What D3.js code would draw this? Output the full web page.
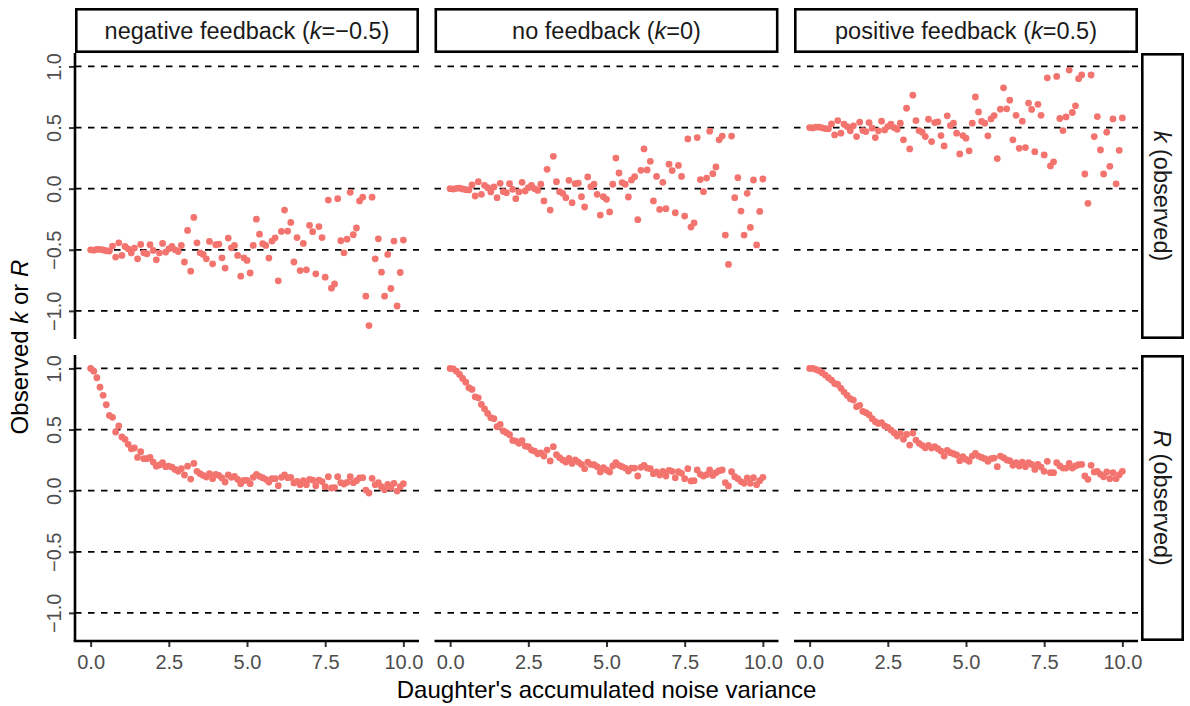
<!DOCTYPE html>
<html>
<head>
<meta charset="utf-8">
<script src="https://cdn.jsdelivr.net/npm/d3@7"></script>
<style>
body { margin: 0; background: #fff; }
svg text { font-family: "Liberation Sans", Arial, sans-serif; }
</style>
</head>
<body>
<svg id="chart" width="1190" height="706"></svg>
<script>
// x: daughter's accumulated noise variance
const noiseVariance = [0, 0.1, 0.2, 0.3, 0.4, 0.5, 0.6, 0.7, 0.8, 0.9,
  1, 1.1, 1.2, 1.3, 1.4, 1.5, 1.6, 1.7, 1.8, 1.9,
  2, 2.1, 2.2, 2.3, 2.4, 2.5, 2.6, 2.7, 2.8, 2.9,
  3, 3.1, 3.2, 3.3, 3.4, 3.5, 3.6, 3.7, 3.8, 3.9,
  4, 4.1, 4.2, 4.3, 4.4, 4.5, 4.6, 4.7, 4.8, 4.9,
  5, 5.1, 5.2, 5.3, 5.4, 5.5, 5.6, 5.7, 5.8, 5.9,
  6, 6.1, 6.2, 6.3, 6.4, 6.5, 6.6, 6.7, 6.8, 6.9,
  7, 7.1, 7.2, 7.3, 7.4, 7.5, 7.6, 7.7, 7.8, 7.9,
  8, 8.1, 8.2, 8.3, 8.4, 8.5, 8.6, 8.7, 8.8, 8.9,
  9, 9.1, 9.2, 9.3, 9.4, 9.5, 9.6, 9.7, 9.8, 9.9, 10];

// observed k, one array per feedback column
const kObsNegative = [-0.5, -0.503, -0.497, -0.496, -0.502, -0.508, -0.51, -0.47, -0.56, -0.443,
  -0.546, -0.473, -0.492, -0.527, -0.486, -0.574, -0.456, -0.525, -0.533, -0.459,
  -0.505, -0.582, -0.527, -0.448, -0.519, -0.492, -0.473, -0.5, -0.514, -0.464,
  -0.6, -0.342, -0.675, -0.235, -0.443, -0.525, -0.538, -0.574, -0.432, -0.615,
  -0.459, -0.454, -0.566, -0.65, -0.404, -0.484, -0.464, -0.546, -0.716, -0.566,
  -0.587, -0.69, -0.464, -0.25, -0.372, -0.45, -0.464, -0.568, -0.429, -0.402,
  -0.754, -0.35, -0.175, -0.347, -0.276, -0.6, -0.4, -0.67, -0.448, -0.664,
  -0.3, -0.352, -0.697, -0.31, -0.4, -0.724, -0.093, -0.814, -0.78, -0.082,
  -0.426, -0.525, -0.413, -0.03, -0.377, -0.322, -0.1, -0.07, -0.88, -1.12,
  -0.07, -0.574, -0.41, -0.683, -0.88, -0.538, -0.817, -0.429, -0.96, -0.686, -0.421];

const kObsNone = [0, -0.003, 0.003, 0.004, -0.002, -0.008, -0.01, 0.03, -0.06, 0.057,
  -0.046, 0.027, 0.008, -0.027, 0.014, -0.074, 0.044, -0.025, -0.033, 0.041,
  -0.005, -0.082, -0.027, 0.052, -0.019, 0.008, 0.027, 0, -0.014, 0.036,
  -0.1, 0.158, -0.175, 0.265, 0.057, -0.025, -0.038, -0.074, 0.068, -0.115,
  0.041, 0.046, -0.066, -0.15, 0.096, 0.016, 0.036, -0.046, -0.216, -0.066,
  -0.087, -0.19, 0.036, 0.25, 0.128, 0.05, 0.036, -0.068, 0.071, 0.098,
  -0.254, 0.15, 0.325, 0.153, 0.224, -0.1, 0.1, -0.17, 0.052, -0.164,
  0.2, 0.148, -0.197, 0.19, 0.1, -0.224, 0.407, -0.314, -0.28, 0.418,
  0.074, -0.025, 0.087, 0.47, 0.123, 0.178, 0.4, 0.43, -0.38, -0.62,
  0.43, -0.074, 0.09, -0.183, -0.38, -0.038, -0.317, 0.071, -0.46, -0.186, 0.079];

const kObsPositive = [0.5, 0.497, 0.503, 0.504, 0.498, 0.492, 0.49, 0.53, 0.44, 0.557,
  0.454, 0.527, 0.508, 0.473, 0.514, 0.426, 0.544, 0.475, 0.467, 0.541,
  0.495, 0.418, 0.473, 0.552, 0.481, 0.508, 0.527, 0.5, 0.486, 0.536,
  0.4, 0.658, 0.325, 0.765, 0.557, 0.475, 0.462, 0.426, 0.568, 0.385,
  0.541, 0.546, 0.434, 0.35, 0.596, 0.516, 0.536, 0.454, 0.284, 0.434,
  0.413, 0.31, 0.536, 0.75, 0.628, 0.55, 0.536, 0.432, 0.571, 0.598,
  0.246, 0.65, 0.825, 0.653, 0.724, 0.4, 0.6, 0.33, 0.552, 0.336,
  0.7, 0.648, 0.303, 0.69, 0.6, 0.276, 0.907, 0.186, 0.22, 0.918,
  0.574, 0.475, 0.587, 0.97, 0.623, 0.678, 0.9, 0.93, 0.12, -0.12,
  0.93, 0.426, 0.59, 0.317, 0.12, 0.462, 0.183, 0.571, 0.04, 0.314, 0.579];

// observed R, one array per feedback column
const rObsNegative = [1, 0.978, 0.924, 0.847, 0.78, 0.703, 0.616, 0.6, 0.48, 0.529,
  0.439, 0.42, 0.379, 0.343, 0.349, 0.272, 0.319, 0.262, 0.262, 0.272,
  0.234, 0.2, 0.21, 0.229, 0.196, 0.2, 0.193, 0.174, 0.158, 0.18,
  0.128, 0.2, 0.095, 0.223, 0.158, 0.139, 0.125, 0.112, 0.139, 0.098,
  0.134, 0.125, 0.104, 0.071, 0.128, 0.109, 0.117, 0.093, 0.057, 0.084,
  0.084, 0.057, 0.109, 0.134, 0.117, 0.106, 0.093, 0.071, 0.098, 0.098,
  0.041, 0.109, 0.128, 0.106, 0.109, 0.063, 0.076, 0.049, 0.082, 0.049,
  0.093, 0.087, 0.041, 0.087, 0.074, 0.033, 0.114, 0.022, 0.025, 0.114,
  0.065, 0.054, 0.068, 0.114, 0.065, 0.082, 0.104, 0.106, 0.005, -0.019,
  0.101, 0.049, 0.065, 0.033, 0.008, 0.052, 0.025, 0.06, -0.003, 0.033, 0.057];

const rObsNone = [1, 0.997, 0.978, 0.951, 0.918, 0.888, 0.842, 0.828, 0.768, 0.76,
  0.706, 0.67, 0.632, 0.597, 0.589, 0.523, 0.542, 0.488, 0.474, 0.458,
  0.411, 0.406, 0.387, 0.41, 0.365, 0.36, 0.332, 0.324, 0.302, 0.31,
  0.283, 0.332, 0.243, 0.36, 0.294, 0.27, 0.251, 0.234, 0.264, 0.223,
  0.251, 0.234, 0.215, 0.18, 0.234, 0.215, 0.212, 0.196, 0.153, 0.188,
  0.169, 0.153, 0.202, 0.229, 0.207, 0.196, 0.185, 0.161, 0.185, 0.185,
  0.12, 0.191, 0.207, 0.185, 0.18, 0.139, 0.153, 0.128, 0.158, 0.12,
  0.166, 0.158, 0.106, 0.155, 0.142, 0.098, 0.18, 0.079, 0.082, 0.169,
  0.134, 0.12, 0.131, 0.169, 0.125, 0.147, 0.163, 0.169, 0.065, 0.038,
  0.155, 0.114, 0.098, 0.074, 0.06, 0.104, 0.06, 0.106, 0.049, 0.082, 0.109];

const rObsPositive = [1, 1, 0.992, 0.981, 0.965, 0.946, 0.924, 0.905, 0.877, 0.869,
  0.837, 0.807, 0.779, 0.752, 0.741, 0.687, 0.698, 0.649, 0.638, 0.621,
  0.589, 0.564, 0.55, 0.556, 0.529, 0.518, 0.496, 0.474, 0.447, 0.469,
  0.42, 0.46, 0.373, 0.471, 0.414, 0.387, 0.371, 0.351, 0.371, 0.349,
  0.36, 0.343, 0.324, 0.283, 0.33, 0.311, 0.302, 0.292, 0.245, 0.278,
  0.256, 0.24, 0.283, 0.305, 0.283, 0.272, 0.262, 0.24, 0.262, 0.267,
  0.196, 0.283, 0.27, 0.251, 0.245, 0.207, 0.229, 0.202, 0.234, 0.196,
  0.229, 0.215, 0.174, 0.215, 0.193, 0.158, 0.24, 0.147, 0.147, 0.229,
  0.202, 0.185, 0.185, 0.223, 0.185, 0.202, 0.212, 0.215, 0.12, 0.093,
  0.207, 0.153, 0.158, 0.134, 0.114, 0.153, 0.098, 0.147, 0.098, 0.131, 0.158];

// facet labels, [plain, italic, plain]
const columnLabels = [
  ["negative feedback (", "k", "=\u22120.5)"],
  ["no feedback (", "k", "=0)"],
  ["positive feedback (", "k", "=0.5)"]
];
const rowLabels = [["", "k", " (observed)"], ["", "R", " (observed)"]];

const xTicks = [0, 2.5, 5, 7.5, 10];
const yTicks = [-1, -0.5, 0, 0.5, 1];
const refLines = [-1, -0.5, 0, 0.5, 1];

const panelSeries = [
  [kObsNegative, kObsNone, kObsPositive],
  [rObsNegative, rObsNone, rObsPositive]
];

function addLabel(sel, parts) {
  sel.append("tspan").text(parts[0]);
  sel.append("tspan").attr("font-style", "italic").text(parts[1]);
  sel.append("tspan").text(parts[2]);
}

function fmt(d) {
  return d3.format(".1f")(d).replace("-", "\u2212");
}

function drawChart() {
  let svg = d3.select("#chart");
  let panelW = 344, panelH = 286, gap = 15.5;
  let lefts = [75, 75 + panelW + gap, 75 + 2 * (panelW + gap)];
  let tops = [53, 355];
  let stripTop = 8;

  let x = d3.scaleLinear().domain([-0.5, 10.5]).range([0, panelW]);
  let y = d3.scaleLinear().domain([-1.23, 1.11]).range([panelH, 0]);

  for (let r = 0; r < 2; r++) {
    for (let c = 0; c < 3; c++) {
      let g = svg.append("g").attr("transform", `translate(${lefts[c]},${tops[r]})`);

      g.selectAll("line.ref")
        .data(refLines)
        .enter().append("line")
        .attr("x1", 0).attr("x2", panelW)
        .attr("y1", d => y(d)).attr("y2", d => y(d))
        .attr("stroke", "#000")
        .attr("stroke-width", 1.7)
        .attr("stroke-dasharray", "6.5,6.5");

      let pts = panelSeries[r][c].map((v, i) => ({ x: noiseVariance[i], y: v }));
      g.selectAll("circle")
        .data(pts)
        .enter().append("circle")
        .attr("cx", d => x(d.x))
        .attr("cy", d => y(d.y))
        .attr("r", 3.4)
        .attr("fill", "#F3746E");

      if (c === 0) {
        let ax = g.append("g").call(d3.axisLeft(y).tickValues(yTicks).tickFormat(fmt).tickSize(6).tickSizeOuter(0));
        ax.select(".domain").remove();
        ax.selectAll(".tick line").attr("stroke", "#333").attr("stroke-width", 2);
        ax.selectAll(".tick text")
          .attr("transform", "rotate(-90)")
          .attr("x", 0).attr("y", -14.5).attr("dy", null)
          .attr("text-anchor", "middle")
          .attr("fill", "#4D4D4D")
          .style("font-size", "20px");
        g.append("line")
          .attr("x1", 0).attr("x2", 0).attr("y1", 0).attr("y2", panelH)
          .attr("stroke", "#000").attr("stroke-width", 2.6);
      }

      if (r === 1) {
        let ax = g.append("g").attr("transform", `translate(0,${panelH})`)
          .call(d3.axisBottom(x).tickValues(xTicks).tickFormat(fmt).tickSize(6).tickSizeOuter(0));
        ax.select(".domain").remove();
        ax.selectAll(".tick line").attr("stroke", "#333").attr("stroke-width", 2);
        ax.selectAll(".tick text")
          .attr("y", 14).attr("dy", "0.71em")
          .attr("fill", "#4D4D4D")
          .style("font-size", "20px");
        g.append("line")
          .attr("x1", c === 0 ? -1.3 : 0).attr("x2", panelW).attr("y1", panelH).attr("y2", panelH)
          .attr("stroke", "#000").attr("stroke-width", 2.6);
      }

      if (r === 0) {
        svg.append("rect")
          .attr("x", lefts[c] + 1.3).attr("y", stripTop + 1.3)
          .attr("width", panelW - 2.6).attr("height", tops[0] - stripTop - 2.6)
          .attr("fill", "#fff").attr("stroke", "#000").attr("stroke-width", 2.6);
        let t = svg.append("text")
          .attr("x", lefts[c] + panelW / 2).attr("y", (stripTop + tops[0]) / 2)
          .attr("dy", "0.35em")
          .attr("text-anchor", "middle")
          .attr("fill", "#1A1A1A")
          .style("font-size", "23.5px");
        addLabel(t, columnLabels[c]);
      }

      if (c === 2) {
        let sx = lefts[2] + panelW + 3;
        svg.append("rect")
          .attr("x", sx + 1.3).attr("y", tops[r] + 1.3)
          .attr("width", 43 - 2.6).attr("height", panelH - 2.6)
          .attr("fill", "#fff").attr("stroke", "#000").attr("stroke-width", 2.6);
        let t = svg.append("text")
          .attr("transform", `translate(${sx + 21.5},${tops[r] + panelH / 2}) rotate(90)`)
          .attr("dy", "0.35em")
          .attr("text-anchor", "middle")
          .attr("fill", "#1A1A1A")
          .style("font-size", "23.5px");
        addLabel(t, rowLabels[r]);
      }
    }
  }

  svg.append("text")
    .attr("x", (lefts[0] + lefts[2] + panelW) / 2).attr("y", 698)
    .attr("text-anchor", "middle")
    .style("font-size", "24px")
    .text("Daughter's accumulated noise variance");

  let yt = svg.append("text")
    .attr("transform", `translate(28,${(tops[0] + tops[1] + panelH) / 2}) rotate(-90)`)
    .attr("text-anchor", "middle")
    .style("font-size", "24px");
  addLabel(yt, ["Observed ", "k", " or "]);
  yt.append("tspan").attr("font-style", "italic").text("R");
}

document.addEventListener("DOMContentLoaded", () => {
  drawChart();
});
</script>
</body>
</html>
